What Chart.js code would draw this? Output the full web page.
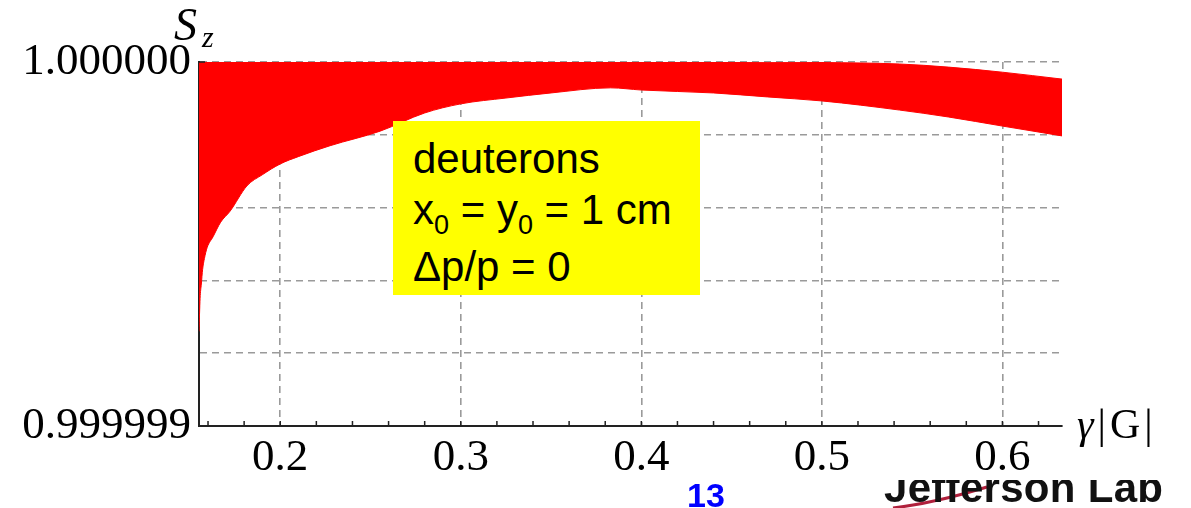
<!DOCTYPE html>
<html>
<head>
<meta charset="utf-8">
<script src="https://cdn.jsdelivr.net/npm/chart.js@4.4.0/dist/chart.umd.min.js"></script>
<style>
  html, body { margin: 0; padding: 0; background: #fff; overflow: hidden; }
  #wrap { position: relative; width: 1191px; height: 508px; overflow: hidden; }
  canvas { position: absolute; left: 0; top: 0; }
  .serif { position: absolute; font-family: 'Liberation Serif', 'Times New Roman', serif; white-space: nowrap; color: #000; }
  #note {
    position: absolute; left: 393px; top: 121px; width: 307px; height: 174px;
    box-sizing: border-box; padding: 12px 0 0 20px; background: #ffff00;
    font-family: 'Liberation Sans', Arial, sans-serif; font-size: 42px; line-height: 51px;
    color: #000; white-space: nowrap;
  }
  #note .sub { font-size: 27px; position: relative; top: 10px; }
  #page {
    position: absolute; left: 687px; top: 478px; font-family: 'Liberation Sans', Arial, sans-serif;
    font-weight: bold; font-size: 34px; line-height: 34px; color: #0000ff;
  }
  #logo { position: absolute; left: 884px; top: 480px; width: 300px; height: 30px; overflow: hidden; }
  #logo span {
    position: absolute; left: 0; top: -13px; font-family: 'Liberation Sans', Arial, sans-serif;
    font-weight: bold; font-size: 42px; line-height: 42px; color: #111; white-space: nowrap; letter-spacing: 0.3px;
  }
  svg { position: absolute; left: 0; top: 0; }
</style>
</head>
<body>
<div id="wrap">
  <canvas id="chart" width="1191" height="508"></canvas>
  <div class="serif" style="left:174px;top:2px;font-size:46px;line-height:46px;font-style:italic">S</div>
  <div class="serif" style="left:202px;top:22px;font-size:30px;line-height:30px;font-style:italic">z</div>
  <div class="serif" style="left:1077px;top:403px;font-size:42px;line-height:42px;letter-spacing:4px"><i>γ</i>|G|</div>
  <div id="note">deuterons<br>x<span class="sub">0</span> = y<span class="sub">0</span> = 1 cm<br>Δp/p = 0</div>
  <div id="page">13</div>
  <svg width="1191" height="508"><path d="M 893 508 Q 935 503 987 487" stroke="#b0203c" stroke-width="3" fill="none"/></svg>
  <div id="logo"><span>Jefferson Lab</span></div>
</div>
<script>
// gamma|G| positions and the envelope of S_z
const xValues = [0.155, 0.1556, 0.1563, 0.157, 0.158, 0.1595, 0.1628, 0.167, 0.1722, 0.1816, 0.19, 0.2,
  0.21, 0.2276, 0.2553, 0.28, 0.3, 0.325, 0.35, 0.383, 0.4, 0.44, 0.47, 0.5, 0.543, 0.57, 0.6, 0.633];
const upperValues = [1, 1, 1, 1, 1, 1, 1, 1, 1, 1, 1, 1,
  1, 1, 1, 1, 1, 1, 1, 1, 1, 1, 0.9999999995, 0.9999999986, 0.9999999945, 0.999999986, 0.999999972, 0.999999953];
const lowerValues = [0.99999926, 0.99999935, 0.99999939, 0.99999943, 0.99999946, 0.99999949, 0.99999952,
  0.99999956, 0.99999959, 0.99999966, 0.99999969, 0.99999972, 0.99999974, 0.99999977, 0.99999981,
  0.99999986, 0.999999885, 0.999999901, 0.999999915, 0.999999929, 0.999999923, 0.999999915, 0.999999904,
  0.999999893, 0.999999868, 0.999999849, 0.999999824, 0.999999797];

const xTicks = [0.16, 0.18, 0.2, 0.22, 0.24, 0.26, 0.28, 0.3, 0.32, 0.34, 0.36, 0.38, 0.4,
  0.42, 0.44, 0.46, 0.48, 0.5, 0.52, 0.54, 0.56, 0.58, 0.6, 0.62];
const xMajor = [0.2, 0.3, 0.4, 0.5, 0.6];
const yTicks = [0.999999, 0.9999992, 0.9999994, 0.9999996, 0.9999998, 1.0];

const isMajor = v => xMajor.some(m => Math.abs(m - v) < 1e-9);
const gridGray = '#9a9a9a';

// mathematica style: short ticks pointing into the plot
const innerTicks = {
  id: 'innerTicks',
  afterDraw(chart) {
    const { ctx, scales: { x, y } } = chart;
    ctx.save();
    ctx.strokeStyle = '#222';
    ctx.lineWidth = 1.5;
    ctx.beginPath();
    xTicks.forEach(v => {
      const px = x.getPixelForValue(v);
      ctx.moveTo(px, y.bottom);
      ctx.lineTo(px, y.bottom - 5);
    });
    ctx.moveTo(x.left, y.top);
    ctx.lineTo(x.left + 6, y.top);
    ctx.stroke();
    ctx.restore();
  }
};

new Chart(document.getElementById('chart'), {
  type: 'line',
  data: {
    datasets: [{
      data: xValues.map((x, i) => ({ x: x, y: upperValues[i] })),
      borderColor: '#ff0000',
      borderWidth: 1,
      backgroundColor: '#ff0000',
      fill: '+1',
      pointRadius: 0,
      cubicInterpolationMode: 'monotone'
    }, {
      data: xValues.map((x, i) => ({ x: x, y: lowerValues[i] })),
      borderColor: '#ff0000',
      borderWidth: 1,
      fill: false,
      pointRadius: 0,
      cubicInterpolationMode: 'monotone'
    }]
  },
  options: {
    responsive: false,
    animation: false,
    layout: { padding: { top: 62, right: 129, left: 0, bottom: 0 } },
    plugins: { legend: { display: false }, tooltip: { enabled: false } },
    scales: {
      x: {
        type: 'linear',
        min: 0.155,
        max: 0.633,
        afterBuildTicks: s => { s.ticks = xTicks.map(v => ({ value: v })); },
        afterFit: s => { s.height = 82; },
        grid: {
          color: c => (c.tick && isMajor(c.tick.value)) ? gridGray : 'rgba(0,0,0,0)',
          lineWidth: 1.6,
          drawTicks: false
        },
        border: { display: true, color: '#222', width: 2, dash: [7, 5] },
        ticks: {
          autoSkip: false,
          maxRotation: 0,
          padding: 5,
          color: '#000',
          font: { family: 'Liberation Serif', size: 45 },
          callback: v => isMajor(v) ? v.toFixed(1) : ''
        }
      },
      y: {
        type: 'linear',
        min: 0.999999,
        max: 1.0,
        afterBuildTicks: s => { s.ticks = yTicks.map(v => ({ value: v })); },
        afterFit: s => { s.width = 199; },
        grid: {
          color: c => c.index === 0 ? 'rgba(0,0,0,0)' : gridGray,
          lineWidth: 1.6,
          drawTicks: false
        },
        border: { display: true, color: '#222', width: 2, dash: [7, 5] },
        ticks: {
          padding: 8,
          color: '#000',
          font: { family: 'Liberation Serif', size: 45 },
          callback: (v, i, ticks) => i === 0 ? '0.999999' : (i === ticks.length - 1 ? '1.000000' : '')
        }
      }
    }
  },
  plugins: [innerTicks]
});
</script>
</body>
</html>
